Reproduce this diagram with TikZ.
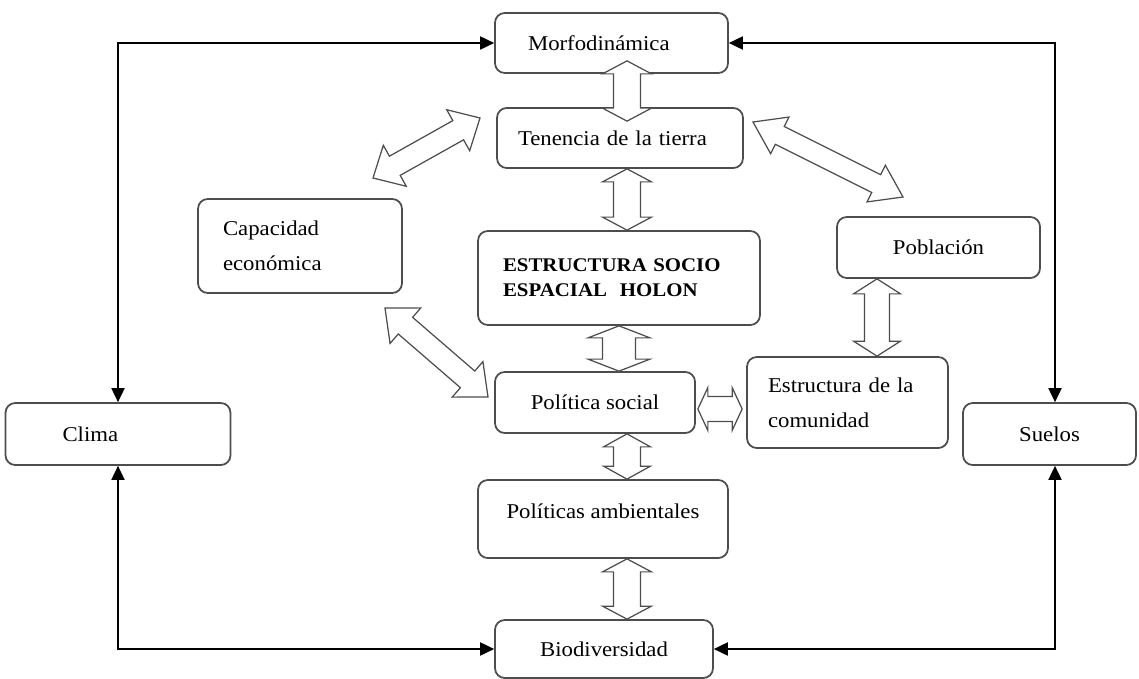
\documentclass[tikz,border=0pt]{standalone}
\usepackage{fontspec}
\setmainfont{Liberation Serif}[FakeStretch=1.08]
\usepackage{tikz}
\usetikzlibrary{arrows.meta,calc,positioning}
\definecolor{boxgray}{HTML}{4D4D4D}

% hollow double arrow: from, to, half shaft, half head, head length
\newcommand{\holarrow}[5]{%
  \draw[holl] (#1)
    -- ($(#1)!#5!(#2)!#4!90:(#2)$) -- ($(#1)!#5!(#2)!#3!90:(#2)$)
    -- ($(#2)!#5!(#1)!#3!-90:(#1)$) -- ($(#2)!#5!(#1)!#4!-90:(#1)$)
    -- (#2)
    -- ($(#2)!#5!(#1)!#4!90:(#1)$) -- ($(#2)!#5!(#1)!#3!90:(#1)$)
    -- ($(#1)!#5!(#2)!#3!-90:(#2)$) -- ($(#1)!#5!(#2)!#4!-90:(#2)$)
    -- cycle;}

\begin{document}
\begin{tikzpicture}[
    x=0.02cm, y=-0.02cm,
    font=\fontsize{12}{20}\selectfont,
    box/.style={draw=boxgray, line width=1pt, rounded corners=5.5pt, fill=white, inner sep=0pt},
    lbox/.style={box, align=left},
    lnk/.style={{Triangle[length=8pt,width=7.5pt]}-{Triangle[length=8pt,width=7.5pt]}, line width=0.85pt},
    holl/.style={draw=boxgray, fill=white, line width=0.7pt, line join=miter},
]
\useasboundingbox (0,0) rectangle (1139,679);

% ============================================================
% BOXES
% ============================================================
\node[lbox, minimum width=4.66cm, minimum height=1.2cm, inner xsep=0.66cm, text width=3.34cm] (morfo) at (611.5,43) {Morfodinámica};
\node[lbox, minimum width=4.92cm, minimum height=1.2cm, inner xsep=0.42cm, text width=4.08cm] (tenencia) at (620,138) {Tenencia de la tierra};
\node[lbox, minimum width=4.08cm, minimum height=1.88cm, inner xsep=0.5cm, text width=3.08cm] (capac) at (300,246) {Capacidad\\económica};
\node[lbox, minimum width=5.64cm, minimum height=1.88cm, inner xsep=0.5cm, text width=4.64cm,
      font=\fontsize{11}{14.2}\selectfont\bfseries] (holon) at (619,278) {ESTRUCTURA SOCIO\\ESPACIAL\ \ HOLON};
\node[box, minimum width=4.06cm, minimum height=1.22cm] (poblacion) at (938.5,247.5) {Población};
\node[box, minimum width=4.0cm, minimum height=1.22cm] (polsoc) at (595,402.5) {Política social};
\node[lbox, minimum width=4.02cm, minimum height=1.82cm, inner xsep=0.42cm, text width=3.18cm] (comun) at (847.5,402.5) {Estructura de la\\comunidad};
\node[lbox, minimum width=4.5cm, minimum height=1.24cm, inner xsep=1.14cm, text width=2.22cm] (clima) at (118,434) {Clima};
\node[box, minimum width=3.46cm, minimum height=1.24cm] (suelos) at (1049.5,434) {Suelos};
\node[box, minimum width=5.0cm, minimum height=1.56cm, text height=9pt, text depth=10pt] (polamb) at (603,519) {Políticas ambientales};
\node[box, minimum width=4.36cm, minimum height=1.16cm] (biodiv) at (604,649) {Biodiversidad};

% ============================================================
% OUTER LOOP
% ============================================================
\coordinate (sn) at ($(suelos.north)+(5.5,0)$);
\coordinate (ss) at ($(suelos.south)+(5.5,0)$);
\draw[lnk] (clima.north) |- (morfo.west);
\draw[lnk] (sn) |- (morfo.east);
\draw[lnk] (clima.south) |- (biodiv.west);
\draw[lnk] (ss) |- (biodiv.east);

% ============================================================
% HOLLOW ARROWS
% ============================================================
% central column
\coordinate (v1) at ($(morfo.south)+(15.5,-13)$);
\coordinate (v2) at ($(tenencia.north)+(7,14)$);
\coordinate (v3) at ($(tenencia.south)+(7,0)$);
\coordinate (v4) at (v3 |- holon.north);
\coordinate (v5) at (holon.south);
\coordinate (v6) at (v5 |- polsoc.north);
\coordinate (v7) at ($(polsoc.south)+(32,0)$);
\coordinate (v8) at (v7 |- polamb.north);
\coordinate (v9) at (v7 |- polamb.south);
\coordinate (v10) at (v7 |- biodiv.north);
\holarrow{v1}{v2}{0.27cm}{0.49cm}{0.26cm}
\holarrow{v3}{v4}{0.27cm}{0.49cm}{0.26cm}
\holarrow{v5}{v6}{0.33cm}{0.62cm}{0.24cm}
\holarrow{v7}{v8}{0.27cm}{0.47cm}{0.26cm}
\holarrow{v9}{v10}{0.27cm}{0.49cm}{0.26cm}

% side links
\coordinate (h1) at ($(polsoc.east)+(2,6.5)$);
\coordinate (h2) at ($(h1 -| comun.west)+(-4,0)$);
\holarrow{h1}{h2}{0.25cm}{0.43cm}{0.2cm}
\coordinate (p1) at ($(poblacion.south)+(-61.5,0)$);
\coordinate (p2) at (p1 |- comun.north);
\holarrow{p1}{p2}{0.25cm}{0.47cm}{0.3cm}

% diagonals
\coordinate (d1) at (373,178);
\coordinate (d2) at (480,118);
\coordinate (d3) at (753,122);
\coordinate (d4) at (903,197);
\coordinate (d5) at (385,308);
\coordinate (d6) at (488,397);
\holarrow{d1}{d2}{0.22cm}{0.47cm}{0.5cm}
\holarrow{d3}{d4}{0.2cm}{0.41cm}{0.6cm}
\holarrow{d5}{d6}{0.22cm}{0.47cm}{0.54cm}

\end{tikzpicture}
\end{document}
